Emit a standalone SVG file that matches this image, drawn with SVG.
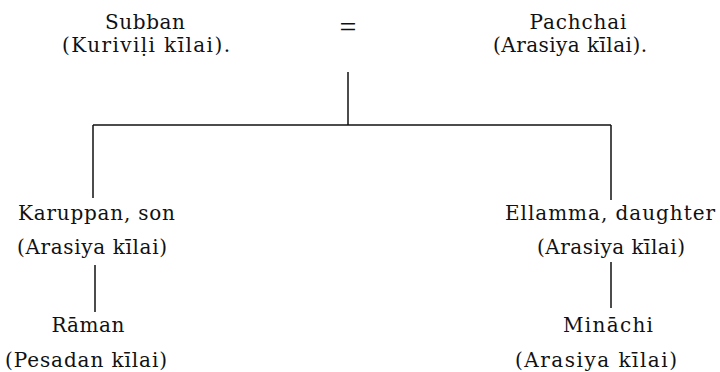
<svg xmlns="http://www.w3.org/2000/svg" width="720" height="372" viewBox="0 0 720 372">
<defs>
<style>
.c{text-anchor:middle}
line{stroke:#111;stroke-width:1.5}
</style>
</defs>
<rect width="720" height="372" fill="#fff"/>
<g id="connectors">
<line x1="348" y1="72" x2="348" y2="125"/>
<line x1="93" y1="125" x2="611" y2="125"/>
<line x1="93" y1="125" x2="93" y2="198"/>
<line x1="611" y1="125" x2="611" y2="200"/>
<line x1="95" y1="265" x2="95" y2="312"/>
<line x1="611" y1="262" x2="611" y2="308"/>
</g>
<g font-family="DejaVu Serif, Liberation Serif, serif" font-size="20" fill="#111">
<g id="subban"><text class="c" x="145" y="29" textLength="80">Subban</text><text class="c" x="146" y="52" textLength="168">(Kuriviḷi kīlai).</text></g>
<g id="marriage"><text class="c" x="348" y="37" font-family="Liberation Serif, serif" font-size="30" textLength="20">=</text></g>
<g id="pachchai"><text class="c" x="578" y="29" textLength="97">Pachchai</text><text class="c" x="570" y="52" textLength="154">(Arasiya kīlai).</text></g>
<g id="karuppan"><text x="18" y="220" textLength="157">Karuppan, son</text><text x="17" y="254" textLength="150">(Arasiya kīlai)</text></g>
<g id="ellamma"><text x="505" y="220" textLength="210">Ellamma, daughter</text><text x="537" y="254" textLength="148">(Arasiya kīlai)</text></g>
<g id="raman"><text class="c" x="88" y="332" textLength="73">Rāman</text><text class="c" x="86" y="367" textLength="162">(Pesadan kīlai)</text></g>
<g id="minachi"><text class="c" x="608" y="332" textLength="90">Mināchi</text><text class="c" x="596" y="367" textLength="162">(Arasiya kīlai)</text></g>
</g>
</svg>
